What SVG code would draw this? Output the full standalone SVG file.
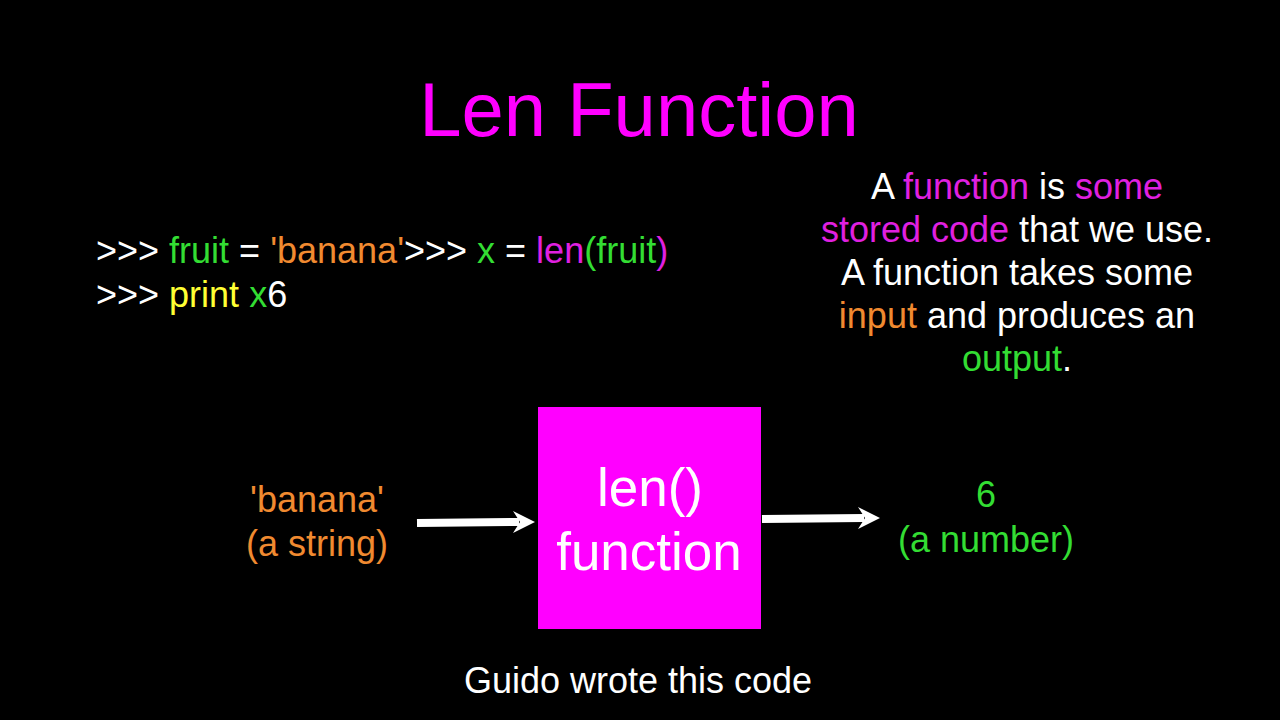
<svg xmlns="http://www.w3.org/2000/svg" width="1280" height="720" viewBox="0 0 1280 720">
<style>
text { font-family: "Liberation Sans", Arial, sans-serif; font-size: 36px; fill: #ffffff; }
.title { font-size: 76px; fill: #ff00ff; }
.mag { fill: #e020e0; }
.grn { fill: #33dd33; }
.org { fill: #f08a30; }
.yel { fill: #ffff33; }
.wht { fill: #ffffff; }
.boxtxt { font-size: 53px; fill: #ffffff; }
.shaft { stroke: #ffffff; stroke-width: 8; fill: none; }
.head { fill: #ffffff; }
</style>
<rect x="0" y="0" width="1280" height="720" fill="#000000"/>
<g id="title">
<text class="title" x="639" y="136" text-anchor="middle">Len Function</text>
</g>
<g id="code">
<text x="96" y="263"><tspan class="wht">&gt;&gt;&gt; </tspan><tspan class="grn">fruit</tspan><tspan class="wht"> = </tspan><tspan class="org">'banana'</tspan><tspan class="wht">&gt;&gt;&gt; </tspan><tspan class="grn">x</tspan><tspan class="wht"> = </tspan><tspan class="mag">len</tspan><tspan class="grn">(fruit</tspan><tspan class="mag">)</tspan></text>
<text x="96" y="307"><tspan class="wht">&gt;&gt;&gt; </tspan><tspan class="yel">print </tspan><tspan class="grn">x</tspan><tspan class="wht">6</tspan></text>
</g>
<g id="description">
<text x="1017" y="199" text-anchor="middle"><tspan class="wht">A </tspan><tspan class="mag">function</tspan><tspan class="wht"> is </tspan><tspan class="mag">some</tspan></text>
<text x="1017" y="242" text-anchor="middle"><tspan class="mag">stored code</tspan><tspan class="wht"> that we use.</tspan></text>
<text x="1017" y="285" text-anchor="middle">A function takes some</text>
<text x="1017" y="328" text-anchor="middle"><tspan class="org">input</tspan><tspan class="wht"> and produces an</tspan></text>
<text x="1017" y="371" text-anchor="middle"><tspan class="grn">output</tspan><tspan class="wht">.</tspan></text>
</g>
<g id="input">
<text class="org" x="317" y="512" text-anchor="middle">'banana'</text>
<text class="org" x="317" y="556" text-anchor="middle">(a string)</text>
</g>
<g id="len-function">
<rect x="538" y="407" width="223" height="222" fill="#ff00ff"/>
<text class="boxtxt" x="650" y="506" text-anchor="middle">len()</text>
<text class="boxtxt" x="649" y="570" text-anchor="middle">function</text>
</g>
<g id="output">
<text class="grn" x="986" y="507" text-anchor="middle">6</text>
<text class="grn" x="986" y="552" text-anchor="middle">(a number)</text>
</g>
<g id="note">
<text x="638" y="693" text-anchor="middle">Guido wrote this code</text>
</g>
<g id="connectors">
<path class="shaft" d="M417 523 L519 522"/>
<polygon class="head" points="513,511 535,522 513,533 520,522"/>
<path class="shaft" d="M762 519 L864 518"/>
<polygon class="head" points="858,507 880,518 858,529 865,518"/>
</g>
</svg>
